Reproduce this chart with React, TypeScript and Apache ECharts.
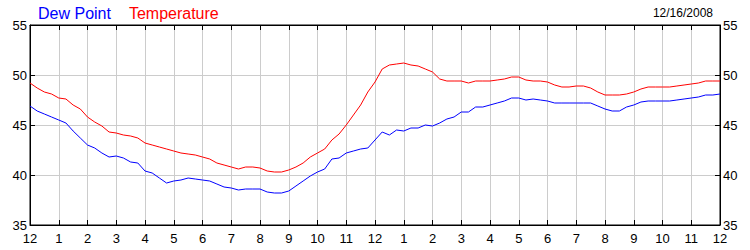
import React, { useEffect, useRef } from "react";
import * as echarts from "echarts";

// 15-minute readings from 12 AM to 12 AM next day (97 points)
const hourLabels = ["12","1","2","3","4","5","6","7","8","9","10","11","12","1","2","3","4","5","6","7","8","9","10","11","12"];

const temperature = [
  49.2, 48.7, 48.3, 48.1, 47.7, 47.6, 47.0, 46.6,
  45.8, 45.3, 44.9, 44.3, 44.2, 44.0, 43.9, 43.7,
  43.2, 43.0, 42.8, 42.6, 42.4, 42.2, 42.1, 42.0,
  41.8, 41.6, 41.2, 41.0, 40.8, 40.6, 40.8, 40.8,
  40.7, 40.4, 40.3, 40.3, 40.5, 40.8, 41.2, 41.8,
  42.2, 42.6, 43.5, 44.1, 45.0, 46.0, 47.0, 48.3,
  49.3, 50.6, 51.0, 51.1, 51.2, 51.0, 50.9, 50.6,
  50.3, 49.6, 49.4, 49.4, 49.4, 49.2, 49.4, 49.4,
  49.4, 49.5, 49.6, 49.8, 49.8, 49.5, 49.4, 49.4,
  49.3, 49.0, 48.8, 48.8, 48.9, 48.9, 48.7, 48.3,
  48.0, 48.0, 48.0, 48.1, 48.3, 48.6, 48.8, 48.8,
  48.8, 48.8, 48.9, 49.0, 49.1, 49.2, 49.4, 49.4,
  49.4,
];

const dewPoint = [
  46.9, 46.4, 46.1, 45.8, 45.5, 45.2, 44.4, 43.7,
  43.0, 42.7, 42.2, 41.8, 41.9, 41.7, 41.3, 41.2,
  40.4, 40.2, 39.7, 39.2, 39.4, 39.5, 39.7, 39.6,
  39.5, 39.4, 39.1, 38.8, 38.7, 38.5, 38.6, 38.6,
  38.6, 38.3, 38.2, 38.2, 38.4, 38.9, 39.4, 39.9,
  40.3, 40.6, 41.6, 41.7, 42.2, 42.4, 42.6, 42.7,
  43.5, 44.3, 44.0, 44.5, 44.4, 44.7, 44.7, 45.0,
  44.9, 45.2, 45.6, 45.8, 46.3, 46.3, 46.8, 46.8,
  47.0, 47.2, 47.4, 47.7, 47.7, 47.5, 47.6, 47.5,
  47.4, 47.2, 47.2, 47.2, 47.2, 47.2, 47.2, 46.9,
  46.6, 46.4, 46.4, 46.8, 47.0, 47.3, 47.4, 47.4,
  47.4, 47.4, 47.5, 47.6, 47.7, 47.8, 48.0, 48.0,
  48.1,
];

const times: string[] = [];
for (let i = 0; i < temperature.length; i++) {
  const h = Math.floor(i / 4);
  const m = (i % 4) * 15;
  times.push(`${h}:${m === 0 ? "00" : m}`);
}

const FONT = "Liberation Sans, Arial, sans-serif";

export default function App() {
  const ref = useRef<HTMLDivElement>(null);
  useEffect(() => {
    document.body.style.margin = "0";
    if (!ref.current) return;
    const chart = echarts.init(ref.current, undefined, { renderer: "svg" });
    const yAxisBase = {
      type: "value" as const,
      min: 35,
      max: 55,
      interval: 5,
      axisLine: { show: true, lineStyle: { color: "#000", width: 1 } },
      axisTick: { show: true, inside: true, length: 5, lineStyle: { color: "#000" } },
      axisLabel: { color: "#000", fontSize: 13, fontFamily: FONT, margin: 3 },
    };
    chart.setOption({
      animation: false,
      backgroundColor: "#fff",
      title: {
        text: "12/16/2008",
        right: 32,
        top: 2,
        textStyle: { fontSize: 12, fontWeight: "normal", color: "#000", fontFamily: FONT },
      },
      legend: {
        left: 28,
        top: 0,
        icon: "none",
        itemWidth: 0,
        itemGap: 13,
        selectedMode: false,
        textStyle: { fontSize: 16, fontFamily: FONT },
        data: [
          { name: "Dew Point", textStyle: { color: "#0000ff" } },
          { name: "Temperature", textStyle: { color: "#ff0000" } },
        ],
      },
      grid: {
        left: 30,
        right: 30,
        top: 25,
        bottom: 25,
        show: true,
        borderColor: "#000",
        borderWidth: 1,
      },
      xAxis: [
        {
          type: "category",
          data: times,
          boundaryGap: false,
          position: "bottom",
          axisLine: { show: true, lineStyle: { color: "#000" } },
          axisTick: { show: true, inside: true, length: 5, interval: 3, lineStyle: { color: "#000" } },
          axisLabel: {
            interval: 3,
            color: "#000",
            fontSize: 13,
            fontFamily: FONT,
            margin: 7,
            showMinLabel: true,
            showMaxLabel: true,
            formatter: (_v: string, idx: number) => hourLabels[idx / 4] ?? "",
          },
          splitLine: { show: true, interval: 3, lineStyle: { color: "#cccccc", width: 1 } },
        },
        {
          type: "category",
          data: times,
          boundaryGap: false,
          position: "top",
          axisLine: { show: true, lineStyle: { color: "#000" } },
          axisTick: { show: true, inside: true, length: 5, interval: 3, lineStyle: { color: "#000" } },
          axisLabel: { show: false },
          splitLine: { show: false },
        },
      ],
      yAxis: [
        {
          ...yAxisBase,
          position: "left",
          splitLine: { show: true, lineStyle: { color: "#cccccc", width: 1 } },
        },
        {
          ...yAxisBase,
          position: "right",
          splitLine: { show: false },
        },
      ],
      series: [
        {
          name: "Dew Point",
          type: "line",
          data: dewPoint,
          showSymbol: false,
          symbol: "none",
          lineStyle: { color: "#0000ff", width: 1 },
          itemStyle: { color: "#0000ff" },
        },
        {
          name: "Temperature",
          type: "line",
          data: temperature,
          showSymbol: false,
          symbol: "none",
          lineStyle: { color: "#ff0000", width: 1 },
          itemStyle: { color: "#ff0000" },
        },
      ],
    });
    return () => chart.dispose();
  }, []);
  return <div ref={ref} style={{ width: 750, height: 250 }} />;
}
